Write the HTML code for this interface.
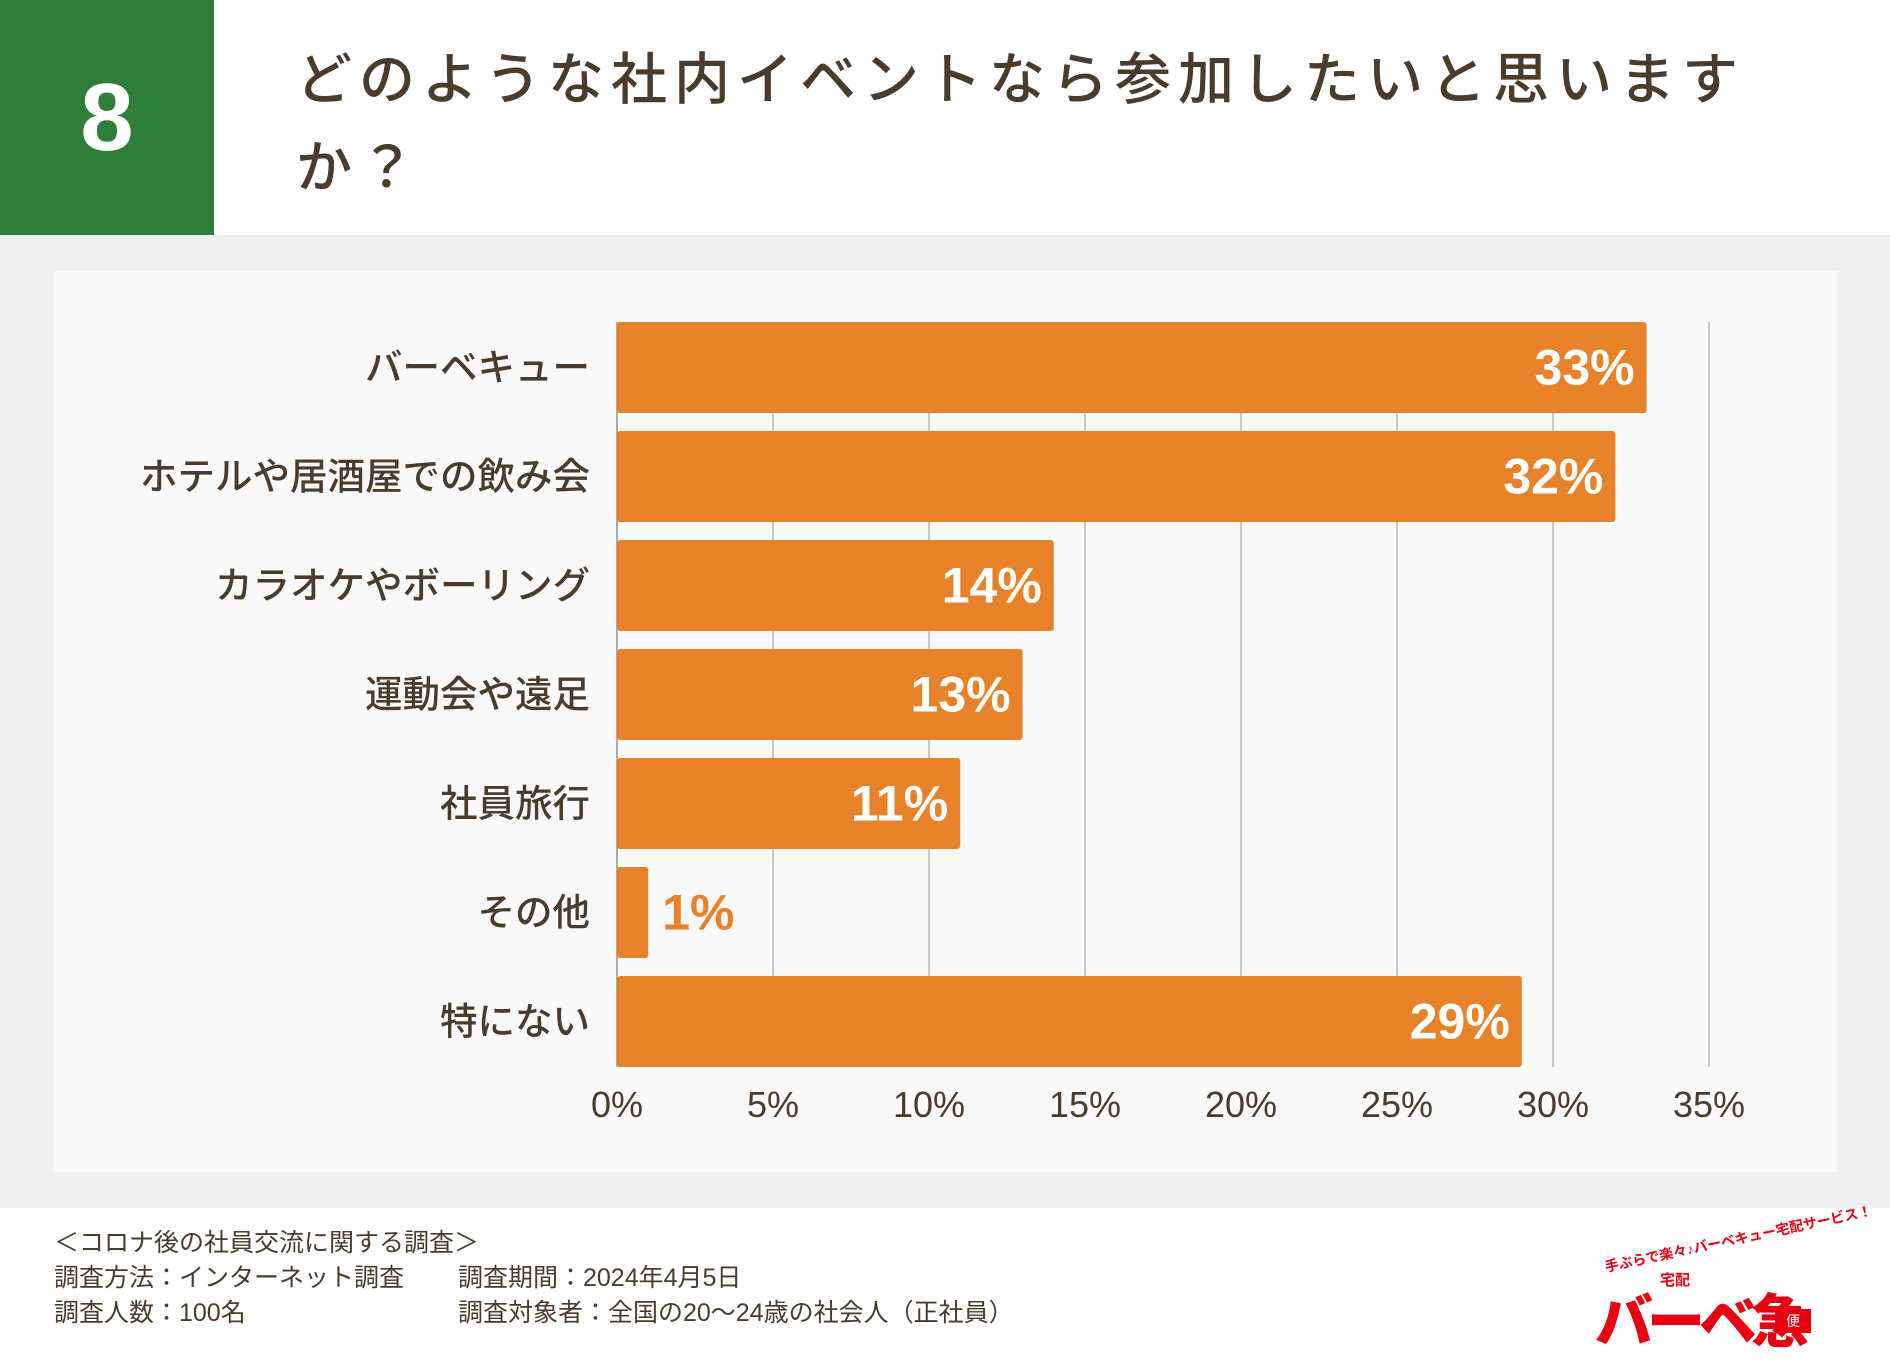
<!DOCTYPE html>
<html><head><meta charset="utf-8"><style>
body{margin:0;width:1890px;height:1350px;position:relative;background:#fff;font-family:"Liberation Sans","Noto Sans CJK JP",sans-serif;color:#4a3b2a;overflow:hidden}
.abs{position:absolute}
</style></head><body>
<div class="abs" style="left:0;top:0;width:214px;height:235px;background:#2e7d3a;color:#fff;font-size:96px;font-weight:bold;display:flex;align-items:center;justify-content:center">8</div>
<div class="abs" style="left:296px;top:36px;width:1560px;font-size:56px;line-height:88px;letter-spacing:7px;font-weight:500">どのような社内イベントなら参加したいと思います<br>か？</div>
<div class="abs" style="left:0;top:235px;width:1890px;height:973px;background:#f0f0f0"></div>
<div class="abs" style="left:53px;top:271px;width:1784px;height:901px;background:#f9f9f9"></div>
<svg class="abs" style="left:0;top:0" width="1890" height="1350" id="chart"></svg>
<div class="abs" style="left:54px;top:1226px;font-size:25px;line-height:35px;color:#4a3b2a">
<div>＜コロナ後の社員交流に関する調査＞</div>
<div>調査方法：インターネット調査</div>
<div>調査人数：100名</div>
</div>
<div class="abs" style="left:458px;top:1261px;font-size:25px;line-height:35px;color:#4a3b2a">
<div>調査期間：2024年4月5日</div>
<div>調査対象者：全国の20〜24歳の社会人（正社員）</div>
</div>
<div class="abs" style="left:1595px;top:1235px;width:240px;height:105px;color:#e60012;white-space:nowrap">
<div style="position:absolute;left:10px;top:22px;font-size:14px;font-weight:bold;transform:rotate(-12deg);transform-origin:left center">手ぶらで楽々♪バーベキュー宅配サービス！</div>
<div style="position:absolute;left:65px;top:34px;font-size:15px;font-weight:bold">宅配</div>
<div style="position:absolute;left:0;top:40px;font-size:58px;font-weight:900;letter-spacing:-6px">バーベ急</div>
<div style="position:absolute;left:180px;top:74px;width:36px;height:24px;background:#e60012;color:#fff;font-size:14px;text-align:center;line-height:24px">便</div>
</div>
<script>
const categories=["バーベキュー","ホテルや居酒屋での飲み会","カラオケやボーリング","運動会や遠足","社員旅行","その他","特にない"];
const values=[33,32,14,13,11,1,29];
const ticks=[0,5,10,15,20,25,30,35];
const svg=document.getElementById('chart');
const NS='http://www.w3.org/2000/svg';
const x0=617,pxPer=156/5,top0=322,pitch=109,bh=91;
const xs=v=>x0+v*pxPer;
function mk(t,a){const e=document.createElementNS(NS,t);for(const k in a)e.setAttribute(k,a[k]);svg.appendChild(e);return e;}
ticks.forEach(t=>{
 if(t>0){const l=mk('line',{x1:xs(t),x2:xs(t),y1:top0,y2:top0+6*pitch+bh,stroke:'#c8c8c8','stroke-width':2});
 
 }
 const tx=mk('text',{x:xs(t),y:1117,'text-anchor':'middle','font-size':36,fill:'#4a3b2a','font-family':'Liberation Sans, sans-serif'});
 tx.textContent=t+'%';
 
 
});
const ax=mk('line',{x1:x0,x2:x0,y1:top0,y2:top0+6*pitch+bh,stroke:'#aaa','stroke-width':2});


categories.forEach((c,i)=>{
 const y=top0+i*pitch,v=values[i];
 const r=mk('rect',{x:x0,y:y,width:xs(v)-x0,height:bh,rx:3,fill:'#e8822a'});
 
 
 const lb=mk('text',{x:590,y:y+bh/2+13,'text-anchor':'end','font-size':37.5,fill:'#4a3b2a','font-weight':'500','font-family':'Liberation Sans, Noto Sans CJK JP, sans-serif'});
 lb.textContent=c;
 
 
 const inside=v>=5;
 const vl=mk('text',{x:inside?xs(v)-12:xs(v)+14,y:y+bh/2+17,'text-anchor':inside?'end':'start','font-size':50,'font-weight':'bold',fill:inside?'#fff':'#e8822a','font-family':'Liberation Sans, sans-serif'});
 vl.textContent=v+'%';
 
 
});
</script>
</body></html>
